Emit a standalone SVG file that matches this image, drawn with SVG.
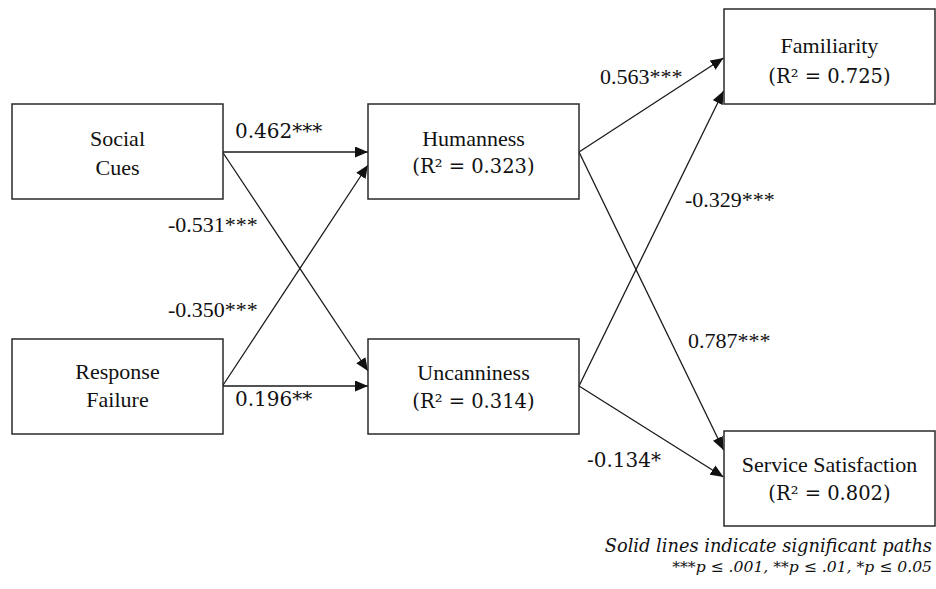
<svg xmlns="http://www.w3.org/2000/svg" width="936" height="589" viewBox="0 0 936 589">
  <style>
    .box { fill: #ffffff; stroke: #2a2a2a; stroke-width: 1.5; }
    .lbl { font-family: "Liberation Serif", "Times New Roman", serif; font-size: 22px; fill: #111; text-anchor: middle; }
    .r2 { font-family: "DejaVu Serif", Georgia, serif; font-size: 19.5px; fill: #111; text-anchor: middle; }
    .ct { font-family: "Liberation Serif", "Times New Roman", serif; font-size: 22px; fill: #111; }
    .cg { font-family: "DejaVu Serif", Georgia, serif; font-size: 20px; fill: #111; }
    .note { font-family: "DejaVu Serif", Georgia, serif; font-style: italic; font-size: 17.8px; fill: #111; text-anchor: end; }
    .note2 { font-size: 15.6px; }
    .edge { stroke: #1a1a1a; stroke-width: 1.3; fill: none; marker-end: url(#arr); }
  </style>
  <defs>
    <marker id="arr" markerUnits="userSpaceOnUse" markerWidth="13" markerHeight="11" refX="13" refY="5.5" orient="auto">
      <path d="M0,0 L13,5.5 L0,11 z" fill="#111"/>
    </marker>
  </defs>
  <rect width="936" height="589" fill="#ffffff"/>

  <g id="connectors">
    <line class="edge" x1="222.5" y1="152" x2="368" y2="152"/>
    <line class="edge" x1="222.5" y1="152" x2="368" y2="371"/>
    <line class="edge" x1="222.5" y1="386" x2="368" y2="165"/>
    <line class="edge" x1="222.5" y1="386" x2="368" y2="386"/>
    <line class="edge" x1="579" y1="152" x2="723.5" y2="58"/>
    <line class="edge" x1="579" y1="152" x2="723.5" y2="450"/>
    <line class="edge" x1="579" y1="386" x2="723.5" y2="91"/>
    <line class="edge" x1="579" y1="386" x2="723.5" y2="477"/>
  </g>

  <g id="edge-labels">
    <text class="cg" x="235" y="138">0.462***</text>
    <text class="ct" x="168" y="232">-0.531***</text>
    <text class="ct" x="168" y="317">-0.350***</text>
    <text class="cg" x="235" y="406">0.196**</text>
    <text class="ct" x="600" y="84">0.563***</text>
    <text class="ct" x="685" y="207">-0.329***</text>
    <text class="ct" x="688" y="348">0.787***</text>
    <text class="cg" x="587" y="467">-0.134*</text>
  </g>

  <g id="social-cues">
    <rect class="box" x="12" y="104" width="211" height="95"/>
    <text class="lbl" x="117.5" y="146">Social</text>
    <text class="lbl" x="117.5" y="175">Cues</text>
  </g>
  <g id="response-failure">
    <rect class="box" x="12" y="339" width="211" height="95"/>
    <text class="lbl" x="117.5" y="379">Response</text>
    <text class="lbl" x="117.5" y="407">Failure</text>
  </g>
  <g id="humanness">
    <rect class="box" x="368" y="104" width="211" height="95"/>
    <text class="lbl" x="473.5" y="146">Humanness</text>
    <text class="r2" x="473.5" y="173">(R² = 0.323)</text>
  </g>
  <g id="uncanniness">
    <rect class="box" x="368" y="339" width="211" height="95"/>
    <text class="lbl" x="473.5" y="380">Uncanniness</text>
    <text class="r2" x="473.5" y="408">(R² = 0.314)</text>
  </g>
  <g id="familiarity">
    <rect class="box" x="724" y="9" width="211" height="95"/>
    <text class="lbl" x="829.5" y="53">Familiarity</text>
    <text class="r2" x="829.5" y="83">(R² = 0.725)</text>
  </g>
  <g id="service-satisfaction">
    <rect class="box" x="724" y="431" width="211" height="95"/>
    <text class="lbl" x="829.5" y="472">Service Satisfaction</text>
    <text class="r2" x="829.5" y="500">(R² = 0.802)</text>
  </g>

  <g id="footnote">
    <text class="note" x="932" y="552">Solid lines indicate significant paths</text>
    <text class="note note2" x="932" y="572">***p ≤ .001, **p ≤ .01, *p ≤ 0.05</text>
  </g>
</svg>
